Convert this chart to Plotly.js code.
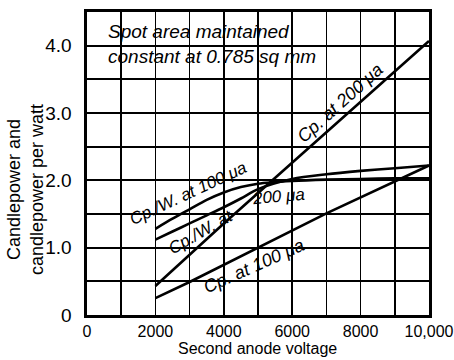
<!DOCTYPE html>
<html>
<head>
<meta charset="utf-8">
<script src="https://cdn.plot.ly/plotly-3.0.1.min.js"></script>
<style>html,body{margin:0;padding:0;background:#fff;}#chart{width:454px;height:360px;}</style>
</head>
<body>
<div id="chart"></div>
<script>
// Data
const voltsCpW = [2000, 2500, 3000, 3500, 4000, 4500, 5000, 6000, 7000, 8000, 9000, 10000];
const cpw100 = [1.28, 1.43, 1.57, 1.71, 1.82, 1.90, 1.95, 1.99, 2.01, 2.02, 2.03, 2.03];
const cpw200 = [1.12, 1.24, 1.36, 1.48, 1.60, 1.73, 1.87, 2.02, 2.09, 2.14, 2.18, 2.22];
const voltsCp200 = [2000, 4000, 10000];
const cp200 = [0.43, 1.36, 4.07];
const voltsCp100 = [2000, 3000, 7000, 10000];
const cp100 = [0.25, 0.49, 1.51, 2.22];

const xTickVals = [0, 1000, 2000, 3000, 4000, 5000, 6000, 7000, 8000, 9000, 10000];
const xTickText = ['0', '', '2000', '', '4000', '', '6000', '', '8000', '', '10,000'];
const yTickVals = [0, 0.5, 1, 1.5, 2, 2.5, 3, 3.5, 4, 4.5];
const yTickText = ['0', '', '1.0', '', '2.0', '', '3.0', '', '4.0', ''];

// plot area in pixels
const L = 87, R = 429, T = 12, B = 315;
const px = x => (x - L) / (R - L);
const py = y => (B - y) / (B - T);

const lineStyle = {color: '#000', width: 2.6};
const traces = [
  {x: voltsCpW, y: cpw100, mode: 'lines', line: Object.assign({shape: 'spline', smoothing: 0.8}, lineStyle), name: 'Cp./W. at 100 μa'},
  {x: voltsCpW, y: cpw200, mode: 'lines', line: Object.assign({shape: 'spline', smoothing: 0.8}, lineStyle), name: 'Cp./W. at 200 μa'},
  {x: voltsCp200, y: cp200, mode: 'lines', line: lineStyle, name: 'Cp. at 200 μa'},
  {x: voltsCp100, y: cp100, mode: 'lines', line: lineStyle, name: 'Cp. at 100 μa'}
];

const FAM = 'Liberation Sans, Arial, sans-serif';
const labFont = {family: FAM, size: 17, color: '#000', style: 'italic'};
function ann(text, x, y, angle, size) {
  return {text: text, xref: 'paper', yref: 'paper', x: px(x), y: py(y), xanchor: 'center', yanchor: 'middle',
          showarrow: false, textangle: angle, font: Object.assign({}, labFont, size ? {size: size} : {})};
}

const layout = {
  width: 454, height: 360,
  margin: {l: L, r: 454 - R, t: T, b: 360 - B, pad: 0},
  paper_bgcolor: '#fff', plot_bgcolor: '#fff',
  showlegend: false,
  font: {family: FAM, color: '#000', size: 17},
  xaxis: {range: [0, 10000], tickvals: xTickVals, ticktext: xTickText, showgrid: true,
          gridcolor: '#000', gridwidth: 1.7, zeroline: false, showline: true, linecolor: '#000', linewidth: 2.6,
          mirror: true, ticks: '', tickfont: {size: 16}, ticklabelstandoff: 0, ticklabeloverflow: 'allow',
          automargin: false, fixedrange: true},
  yaxis: {range: [0, 4.5], tickvals: yTickVals, ticktext: yTickText, showgrid: true,
          gridcolor: '#000', gridwidth: 1.7, zeroline: false, showline: true, linecolor: '#000', linewidth: 2.6,
          mirror: true, ticks: '', tickfont: {size: 19}, ticklabelstandoff: 9, automargin: false, fixedrange: true},
  shapes: [
    {type: 'rect', xref: 'paper', yref: 'paper', x0: px(97), x1: px(338), y0: py(18), y1: py(68),
     fillcolor: '#fff', line: {width: 0}, layer: 'between'}
  ],
  annotations: [
    {text: 'Spot area maintained<br>constant at 0.785 sq mm', xref: 'paper', yref: 'paper', x: px(212), y: py(44),
     xanchor: 'center', yanchor: 'middle', showarrow: false, align: 'left',
     font: {family: FAM, size: 19, color: '#000', style: 'italic'}},
    ann('Cp. at 200 μa', 340, 103, -42, 18),
    ann('Cp./W. at 100 μa', 188, 194, -25, 17),
    ann('Cp./W. at', 200, 232, -30, 17),
    ann('200 μa', 278, 197, -5, 17),
    ann('Cp. at 100 μa', 254, 266, -24, 18),
    {text: 'Second anode voltage', xref: 'paper', yref: 'paper', x: px(257), y: py(348),
     xanchor: 'center', yanchor: 'middle', showarrow: false, font: {size: 16}},
    {text: 'Candlepower and<br>candlepower per watt', xref: 'paper', yref: 'paper', x: px(25), y: py(190),
     xanchor: 'center', yanchor: 'middle', showarrow: false, textangle: -90, font: {size: 18}}
  ]
};

Plotly.newPlot('chart', traces, layout, {displayModeBar: false, staticPlot: true});
</script>
</body>
</html>
